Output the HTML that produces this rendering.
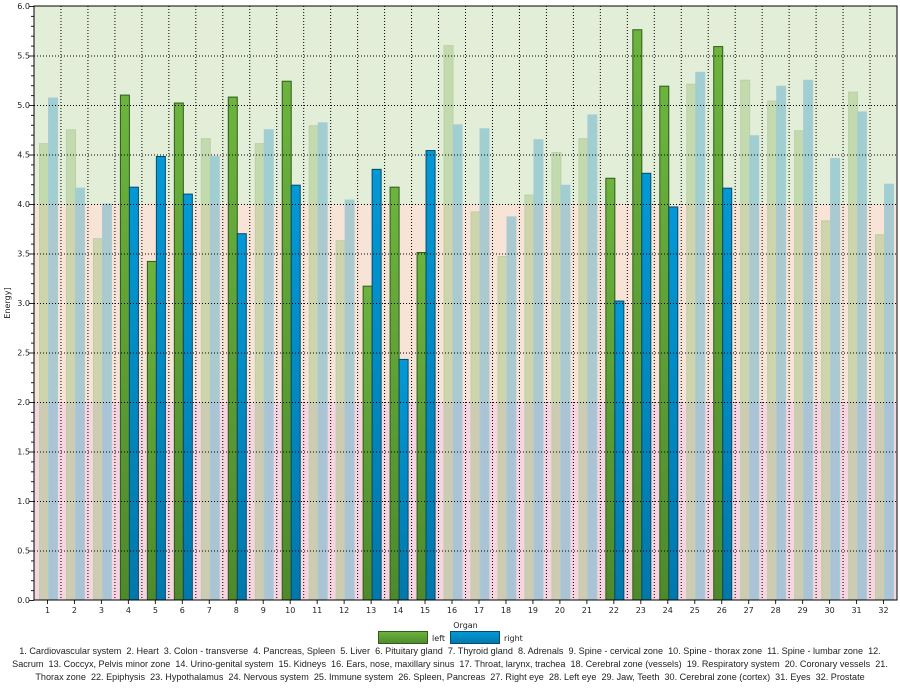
<!DOCTYPE html>
<html><head><meta charset="utf-8"><style>
body{margin:0;background:#fff;font-family:"Liberation Sans","DejaVu Sans",sans-serif}
svg text{font-family:"DejaVu Sans","Liberation Sans",sans-serif}
.desc{position:absolute;left:0;width:900px;text-align:center;font-size:9.1px;color:#222;font-family:"Liberation Sans","DejaVu Sans",sans-serif;line-height:13px;white-space:nowrap}
</style></head><body>
<svg id="c" width="900" height="690" style="position:absolute;left:0;top:0">
<defs>
<linearGradient id="gG" x1="0" y1="0" x2="0" y2="1"><stop offset="0" stop-color="#6cb43e"/><stop offset="1" stop-color="#4e8a2c"/></linearGradient>
<linearGradient id="gB" x1="0" y1="0" x2="0" y2="1"><stop offset="0" stop-color="#0399d6"/><stop offset="1" stop-color="#0278aa"/></linearGradient>
</defs>
</svg>
<div class="desc" style="top:645px">1. Cardiovascular system&nbsp; 2. Heart&nbsp; 3. Colon - transverse&nbsp; 4. Pancreas, Spleen&nbsp; 5. Liver&nbsp; 6. Pituitary gland&nbsp; 7. Thyroid gland&nbsp; 8. Adrenals&nbsp; 9. Spine - cervical zone&nbsp; 10. Spine - thorax zone&nbsp; 11. Spine - lumbar zone&nbsp; 12.<br>Sacrum&nbsp; 13. Coccyx, Pelvis minor zone&nbsp; 14. Urino-genital system&nbsp; 15. Kidneys&nbsp; 16. Ears, nose, maxillary sinus&nbsp; 17. Throat, larynx, trachea&nbsp; 18. Cerebral zone (vessels)&nbsp; 19. Respiratory system&nbsp; 20. Coronary vessels&nbsp; 21.<br>Thorax zone&nbsp; 22. Epiphysis&nbsp; 23. Hypothalamus&nbsp; 24. Nervous system&nbsp; 25. Immune system&nbsp; 26. Spleen, Pancreas&nbsp; 27. Right eye&nbsp; 28. Left eye&nbsp; 29. Jaw, Teeth&nbsp; 30. Cerebral zone (cortex)&nbsp; 31. Eyes&nbsp; 32. Prostate</div>
<script>
const categories=["1","2","3","4","5","6","7","8","9","10","11","12","13","14","15","16","17","18","19","20","21","22","23","24","25","26","27","28","29","30","31","32"];
const leftValues=[4.61,4.75,3.65,5.10,3.42,5.02,4.66,5.08,4.61,5.24,4.79,3.63,3.17,4.17,3.51,5.60,3.92,3.47,4.09,4.52,4.66,4.26,5.76,5.19,5.21,5.59,5.25,5.04,4.74,3.83,5.13,3.69];
const rightValues=[5.07,4.16,4.00,4.17,4.48,4.10,4.48,3.70,4.75,4.19,4.82,4.04,4.35,2.43,4.54,4.80,4.76,3.87,4.65,4.19,4.90,3.02,4.31,3.97,5.33,4.16,4.69,5.19,5.25,4.46,4.93,4.20];
const highlighted=[0,0,0,1,1,1,0,1,0,1,0,0,1,1,1,0,0,0,0,0,0,1,1,1,0,1,0,0,0,0,0,0];
const yTicks=["0.0","0.5","1.0","1.5","2.0","2.5","3.0","3.5","4.0","4.5","5.0","5.5","6.0"];
const svg=document.getElementById('c');const NS='http://www.w3.org/2000/svg';
const X0=34,X1=897,Y0=600,Y1=6,YMAX=6;
const cw=(X1-X0)/categories.length;
const y=v=>Y0-(v/YMAX)*(Y0-Y1);
const x=i=>X0+i*cw;
function mk(t,a,p){const e=document.createElementNS(NS,t);for(const k in a)e.setAttribute(k,a[k]);(p||svg).appendChild(e);return e;}
let r;
r=mk('rect',{x:X0,y:y(2),width:X1-X0,height:y(0)-y(2),fill:'#f6d4e0'});


r=mk('rect',{x:X0,y:y(4),width:X1-X0,height:y(2)-y(4),fill:'#f8e4d6'});


r=mk('rect',{x:X0,y:y(6),width:X1-X0,height:y(4)-y(6),fill:'#e2eed8'});


const bw=9;
categories.forEach((c,i)=>{
  const h=highlighted[i];
  const lx=x(i)+5.5, rx=lx+bw;
  let b=mk('rect',{x:lx,y:y(leftValues[i]),width:bw,height:y(0)-y(leftValues[i]),fill:h?'url(#gG)':'#9cc07a',stroke:h?'#2f5a1c':'#bcd0a8','stroke-width':1,'fill-opacity':h?1:0.45});
  
  
  b=mk('rect',{x:rx,y:y(rightValues[i]),width:bw,height:y(0)-y(rightValues[i]),fill:h?'url(#gB)':'#6cb4cc',stroke:h?'#064a6c':'#a8ccd8','stroke-width':1,'fill-opacity':h?1:0.55});
  
  
});
for(let i=1;i<categories.length;i++){const l=mk('line',{x1:x(i),x2:x(i),y1:Y1,y2:Y0,stroke:'#000','stroke-width':1,'stroke-dasharray':'1,2'});}
yTicks.forEach((t,i)=>{const v=parseFloat(t);
  if(v>0&&v<YMAX){const l=mk('line',{x1:X0,x2:X1,y1:y(v)+0.5,y2:y(v)+0.5,stroke:'#000','stroke-width':1,'stroke-dasharray':'1,2'});}
  const tx=mk('text',{x:X0-4,y:y(v)+3,'font-size':8,'text-anchor':'end',fill:'#222'});tx.textContent=t;
  
  
});
for(let k=0;k<=60;k++){const yy=y(k/10)+0.5;mk('line',{x1:X0-(k%5==0?5:3),x2:X0,y1:yy,y2:yy,stroke:'#222','stroke-width':1});}
categories.forEach((c,i)=>{const cx=x(i)+cw/2;mk('line',{x1:cx,x2:cx,y1:Y0,y2:Y0+4,stroke:'#222'});
  const t=mk('text',{x:cx,y:Y0+13,'font-size':8,'text-anchor':'middle',fill:'#222'});t.textContent=c;
  
  });
r=mk('rect',{x:X0,y:Y1,width:X1-X0,height:Y0-Y1,fill:'none',stroke:'#000','stroke-width':1});


let t=mk('text',{x:(X0+X1)/2,y:628,'font-size':8,'text-anchor':'middle',fill:'#222'});t.textContent='Organ';


t=mk('text',{x:0,y:0,'font-size':8,'text-anchor':'middle',fill:'#222',transform:'translate(10,303) rotate(-90)'});t.textContent='Energy]';


let g=mk('rect',{x:378.5,y:631.5,width:49,height:12,fill:'url(#gG)',stroke:'#2f5a1c'});


t=mk('text',{x:432,y:641,'font-size':8,fill:'#222'});t.textContent='left';


g=mk('rect',{x:450.5,y:631.5,width:49,height:12,fill:'url(#gB)',stroke:'#064a6c'});


t=mk('text',{x:504,y:641,'font-size':8,fill:'#222'});t.textContent='right';


</script>
</body></html>
